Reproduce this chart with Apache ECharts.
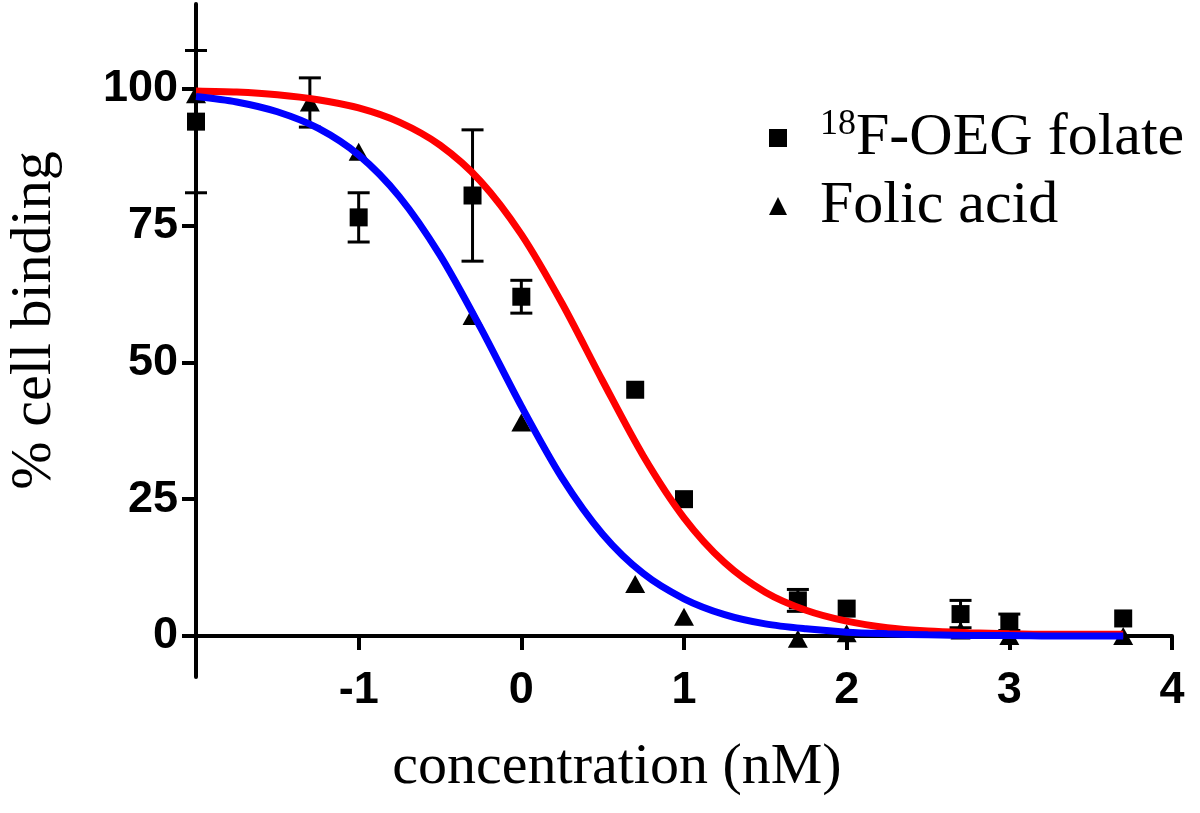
<!DOCTYPE html>
<html>
<head>
<meta charset="utf-8">
<script src="https://cdn.jsdelivr.net/npm/echarts@6/dist/echarts.min.js"></script>
<style>
html,body{margin:0;padding:0;background:#fff;}
#chart{width:1200px;height:813px;}
</style>
</head>
<body>
<div id="chart"></div>
<script>
// ---- data (log concentration, % cell binding) ----
const seriesNames = ['18F-OEG folate', 'Folic acid'];

const oegX   = [-2, -1, -0.3, 0, 0.7, 1, 1.7, 2, 2.7, 3, 3.7];
const oegY   = [94, 76.5, 80.5, 62, 45, 25, 6.5, 5, 4, 2.5, 3.2];
const oegErr = [13, 4.5, 12, 3, 0, 0, 2, 0, 2.5, 1.5, 0];

const faX   = [-2, -1.3, -1, -0.3, 0, 0.7, 1, 1.7, 2, 2.7, 3, 3.7];
const faY   = [99, 97.5, 88.5, 58.5, 39, 9.5, 3.5, -0.5, 0.5, 1, 0, 0];
const faErr = [0, 4.5, 0, 0, 0, 0, 0, 0, 0, 0, 0, 0];

// fitted curves
const curveX   = [-2, -1.75, -1.5, -1.25, -1, -0.75, -0.5, -0.25, 0, 0.25, 0.5, 0.75, 1, 1.25, 1.5, 1.75, 2, 2.25, 2.5, 2.75, 3, 3.25, 3.5, 3.7];
const oegCurve = [99.6, 99.4, 98.9, 98.0, 96.5, 93.9, 89.7, 83.1, 73.4, 60.8, 46.6, 32.9, 21.6, 13.4, 8.0, 4.7, 2.7, 1.5, 0.9, 0.6, 0.4, 0.3, 0.3, 0.3];
const faCurve  = [98.6, 97.6, 95.8, 92.8, 87.9, 80.3, 69.6, 56.3, 42.0, 28.9, 18.6, 11.4, 6.8, 3.9, 2.2, 1.3, 0.7, 0.4, 0.2, 0.1, 0.1, 0.0, 0.0, 0.0];

const xTicks = [-1, 0, 1, 2, 3, 4];
const yTicks = [0, 25, 50, 75, 100];

// ---- build ----
const zip = (a, b) => a.map((v, i) => [v, b[i]]);
const zip3 = (a, b, c) => a.map((v, i) => [v, b[i], c[i]]);

const serif = "'Liberation Serif', 'Times New Roman', serif";
const sans = "'Liberation Sans', Arial, sans-serif";

function errRender(params, api) {
  const x = api.value(0), y = api.value(1), e = api.value(2);
  if (!e) return null;
  const t = api.coord([x, y + e]);
  const b = api.coord([x, y - e]);
  const w = 11;
  const st = {stroke: '#000', lineWidth: 3};
  return {
    type: 'group',
    children: [
      {type: 'line', shape: {x1: t[0], y1: t[1], x2: b[0], y2: b[1]}, style: st},
      {type: 'line', shape: {x1: t[0] - w, y1: t[1], x2: t[0] + w, y2: t[1]}, style: st},
      {type: 'line', shape: {x1: b[0] - w, y1: b[1], x2: b[0] + w, y2: b[1]}, style: st}
    ]
  };
}

const chart = echarts.init(document.getElementById('chart'), null, {renderer: 'canvas'});
chart.setOption({
  animation: false,
  backgroundColor: '#ffffff',
  grid: {left: 196, right: 28, top: 4, bottom: 136, containLabel: false, outerBoundsMode: 'none'},
  legend: {
    orient: 'vertical',
    left: 764,
    top: 102,
    itemGap: 8,
    itemWidth: 18,
    itemHeight: 18,
    data: seriesNames,
    formatter: function (name) {
      return name === seriesNames[0] ? '{sup|18}{m|F-OEG folate}' : '{m|Folic acid}';
    },
    itemStyle: {opacity: 1},
    textStyle: {
      color: '#000',
      fontFamily: serif,
      fontSize: 60,
      padding: [0, 0, 0, 28],
      rich: {
        sup: {fontFamily: serif, fontSize: 36, color: '#000', verticalAlign: 'top', lineHeight: 62, padding: [0, 0, 22, 0]},
        m: {fontFamily: serif, fontSize: 60, color: '#000', lineHeight: 62}
      }
    }
  },
  xAxis: {
    type: 'value',
    min: -2,
    max: 4,
    name: 'concentration (nM)',
    nameLocation: 'middle',
    nameGap: 62,
    nameTextStyle: {fontFamily: serif, fontSize: 58, color: '#000', padding: [0, 134, 0, 0]},
    axisLine: {onZero: true, lineStyle: {color: '#000', width: 4}},
    axisTick: {show: true, length: 14, lineStyle: {color: '#000', width: 4}, customValues: xTicks},
    axisLabel: {color: '#000', fontFamily: sans, fontWeight: 'bold', fontSize: 45, margin: -9, customValues: xTicks},
    splitLine: {show: false}
  },
  yAxis: {
    type: 'value',
    min: -7.5,
    max: 115.5,
    name: '% cell binding',
    nameLocation: 'middle',
    nameGap: 132,
    nameTextStyle: {fontFamily: serif, fontSize: 58, color: '#000', padding: [0, 0, 0, 40]},
    axisLine: {show: true, onZero: false, lineStyle: {color: '#000', width: 4}},
    axisTick: {show: true, length: 14, lineStyle: {color: '#000', width: 4}, customValues: yTicks},
    axisLabel: {color: '#000', fontFamily: sans, fontWeight: 'bold', fontSize: 45, margin: 18, customValues: yTicks},
    splitLine: {show: false}
  },
  series: [
    {
      type: 'custom', name: 'oegErr', renderItem: errRender,
      data: zip3(oegX, oegY, oegErr), z: 3, silent: true
    },
    {
      type: 'custom', name: 'faErr', renderItem: errRender,
      data: zip3(faX, faY, faErr), z: 3, silent: true
    },
    {
      type: 'scatter', name: seriesNames[0], symbol: 'rect', symbolSize: 18,
      itemStyle: {color: '#000', opacity: 1}, data: zip(oegX, oegY), z: 4
    },
    {
      type: 'scatter', name: seriesNames[1], symbol: 'triangle', symbolSize: [20, 18],
      itemStyle: {color: '#000', opacity: 1}, data: zip(faX, faY), z: 4
    },
    {
      type: 'line', name: 'oegFit', smooth: 0.3, showSymbol: false, symbol: 'none',
      lineStyle: {color: '#ff0000', width: 7}, data: zip(curveX, oegCurve), z: 5
    },
    {
      type: 'line', name: 'faFit', smooth: 0.3, showSymbol: false, symbol: 'none',
      lineStyle: {color: '#0000ff', width: 7}, data: zip(curveX, faCurve), z: 6
    }
  ]
});
</script>
</body>
</html>
